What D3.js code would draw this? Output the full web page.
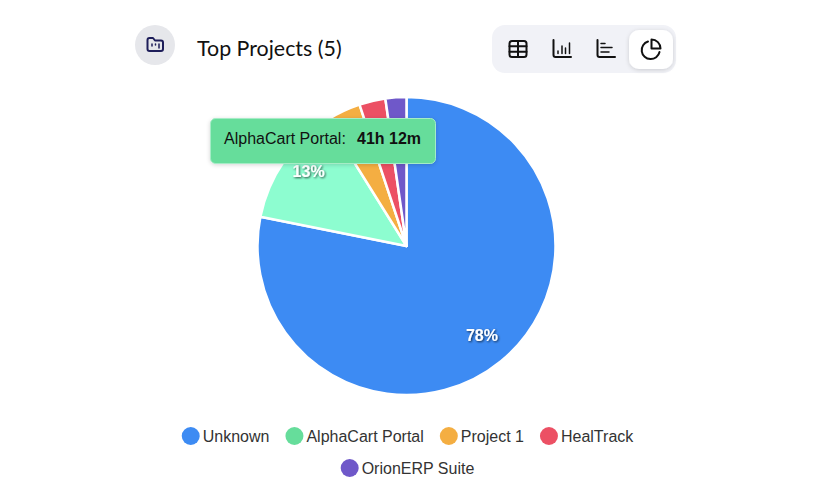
<!DOCTYPE html>
<meta charset="utf-8">
<script src="https://d3js.org/d3.v7.min.js"></script>
<style>
  html, body { margin: 0; background: #fff; }
  svg { display: block; }
  .legend, .tip, .pct { font-family: "Liberation Sans", sans-serif; }
</style>
<div id="my_dataviz"></div>
<script>
  const svgWidth = 816, svgHeight = 496;

  const projects = ["Unknown", "AlphaCart Portal", "Project 1", "HealTrack", "OrionERP Suite"];
  const hours = [248, 41.2, 12, 9, 7.2];
  const colors = ["#3d8bf3", "#66dd9b", "#f4ae42", "#ec5064", "#6f58c9"];
  const hoveredProject = "AlphaCart Portal";
  const hoveredFill = "#8dfdd0";
  const tooltipValue = "41h 12m";
  const legendRows = [projects.slice(0, 4), projects.slice(4)];

  const svg = d3.select("#my_dataviz").append("svg")
    .attr("width", svgWidth).attr("height", svgHeight);

  const defs = svg.append("defs");
  const shadow = defs.append("filter").attr("id", "panelShadow")
    .attr("x", "-30%").attr("y", "-30%").attr("width", "160%").attr("height", "160%");
  shadow.append("feDropShadow").attr("dx", 0).attr("dy", 1).attr("stdDeviation", 2)
    .attr("flood-color", "#000").attr("flood-opacity", 0.16);
  const textShadow = defs.append("filter").attr("id", "textShadow")
    .attr("x", "-30%").attr("y", "-30%").attr("width", "160%").attr("height", "160%");
  textShadow.append("feDropShadow").attr("dx", 1).attr("dy", 1).attr("stdDeviation", 1.2)
    .attr("flood-color", "#000").attr("flood-opacity", 0.7);

  // header
  svg.append("circle").attr("cx", 155).attr("cy", 45).attr("r", 20).attr("fill", "#e6e7eb");
  const folder = svg.append("g").attr("transform", "translate(147,37)")
    .attr("fill", "none").attr("stroke", "#1e1e5a").attr("stroke-width", 2)
    .attr("stroke-linejoin", "round").attr("stroke-linecap", "round");
  folder.append("path").attr("d", "M0.5,3 Q0.5,1 2.5,1 H6 L8,3.5 H14 Q16,3.5 16,5.5 V12 Q16,14 14,14 H2.5 Q0.5,14 0.5,12 Z");
  folder.append("path").attr("d", "M5,7 V9 M8.5,7 V8 M12,7 V11").attr("stroke-width", 1.5);

  svg.append("text").attr("x", 197).attr("y", 56)
    .attr("font-family", "Lato, sans-serif").attr("font-size", 21.4).attr("fill", "#111")
    .text("Top Projects (5)");

  // view switcher
  svg.append("rect").attr("x", 492).attr("y", 25).attr("width", 184).attr("height", 48)
    .attr("rx", 13).attr("fill", "#f1f2f7");
  svg.append("rect").attr("x", 629).attr("y", 30).attr("width", 44).attr("height", 39)
    .attr("rx", 10).attr("fill", "#fff").attr("filter", "url(#panelShadow)");

  const iconStyle = g => g.attr("fill", "none").attr("stroke", "#111").attr("stroke-width", 2)
    .attr("stroke-linecap", "round").attr("stroke-linejoin", "round");

  const table = svg.append("g").attr("transform", "translate(518,49)").call(iconStyle);
  table.append("rect").attr("x", -8.5).attr("y", -8).attr("width", 17).attr("height", 16).attr("rx", 2.5);
  table.append("path").attr("d", "M-8.5,-2.7 H8.5 M-8.5,2.7 H8.5 M0,-8 V8");

  const bars = svg.append("g").attr("transform", "translate(562,49)").call(iconStyle);
  bars.append("path").attr("d", "M-8.5,-9 V6 Q-8.5,8 -6.5,8 H9");
  bars.append("path").attr("d", "M-4,4.5 V2 M0,4.5 V-3 M3.5,4.5 V-1 M7.5,4.5 V-6").attr("stroke-width", 1.5);

  const hbars = svg.append("g").attr("transform", "translate(606,49)").call(iconStyle);
  hbars.append("path").attr("d", "M-8.5,-9 V6 Q-8.5,8 -6.5,8 H9");
  hbars.append("path").attr("d", "M-5,-5.5 H-1 M-5,-1.5 H6 M-5,3 H3").attr("stroke-width", 1.5);

  const pieIcon = svg.append("g").attr("transform", "translate(651,49)").call(iconStyle);
  pieIcon.append("path").attr("d", "M-3,-7.5 A9,9 0 1 0 8.5,3");
  pieIcon.append("path").attr("d", "M0.5,-9.5 A9,9 0 0 1 9.5,-0.5 H0.5 Z");

  // pie
  const cx = 406.5, cy = 246, radius = 149;
  const color = d3.scaleOrdinal().domain(projects).range(colors);
  const total = d3.sum(hours);
  const pie = d3.pie().sort(null).value(d => d.hours);
  const arc = d3.arc().innerRadius(0).outerRadius(radius);
  const labelArc = d3.arc().innerRadius(119).outerRadius(119);
  const rows = projects.map((name, i) => ({ name, hours: hours[i] }));

  const chart = svg.append("g").attr("transform", `translate(${cx},${cy})`);
  chart.selectAll("path").data(pie(rows)).join("path")
    .attr("d", arc)
    .attr("fill", d => d.data.name === hoveredProject ? hoveredFill : color(d.data.name))
    .attr("stroke", "#fff").attr("stroke-width", 2.5).attr("stroke-linejoin", "round");

  chart.selectAll("text").data(pie(rows).filter(d => d.data.hours / total > 0.05)).join("text")
    .attr("class", "pct")
    .attr("transform", d => {
      const [x, y] = labelArc.centroid(d);
      // labels sit a bit above the arc centroid, more so on the hovered slice
      return `translate(${x},${y - (d.data.name === hoveredProject ? 7 : 3)})`;
    })
    .attr("text-anchor", "middle").attr("dy", "0.35em")
    .attr("font-size", 16).attr("font-weight", "bold").attr("fill", "#fff")
    .attr("filter", "url(#textShadow)")
    .text(d => Math.round(d.data.hours / total * 100) + "%");

  // tooltip
  const tip = svg.append("g").attr("class", "tip");
  tip.append("rect").attr("x", 210.5).attr("y", 118.5).attr("width", 225).attr("height", 45)
    .attr("rx", 5).attr("fill", color(hoveredProject)).attr("stroke", "#a5ecc6")
    .attr("filter", "url(#panelShadow)");
  tip.append("text").attr("x", 224).attr("y", 144).attr("font-size", 16).attr("fill", "#111")
    .text(hoveredProject + ":");
  tip.append("text").attr("x", 357).attr("y", 144).attr("font-size", 16)
    .attr("font-weight", "bold").attr("fill", "#111").text(tooltipValue);

  // legend
  const legend = svg.append("g").attr("class", "legend");
  legendRows.forEach((names, r) => {
    const y = 436 + r * 32;
    const row = legend.append("g");
    let x = 0;
    names.forEach(name => {
      const item = row.append("g").attr("transform", `translate(${x},${y})`);
      item.append("circle").attr("cx", 9).attr("r", 9).attr("fill", color(name));
      const label = item.append("text").attr("x", 21).attr("dy", "0.35em")
        .attr("font-size", 16).attr("fill", "#333").text(name);
      x += 21 + label.node().getComputedTextLength() + 16;
    });
    row.attr("transform", `translate(${407.5 - (x - 16) / 2},0)`);
  });
</script>
